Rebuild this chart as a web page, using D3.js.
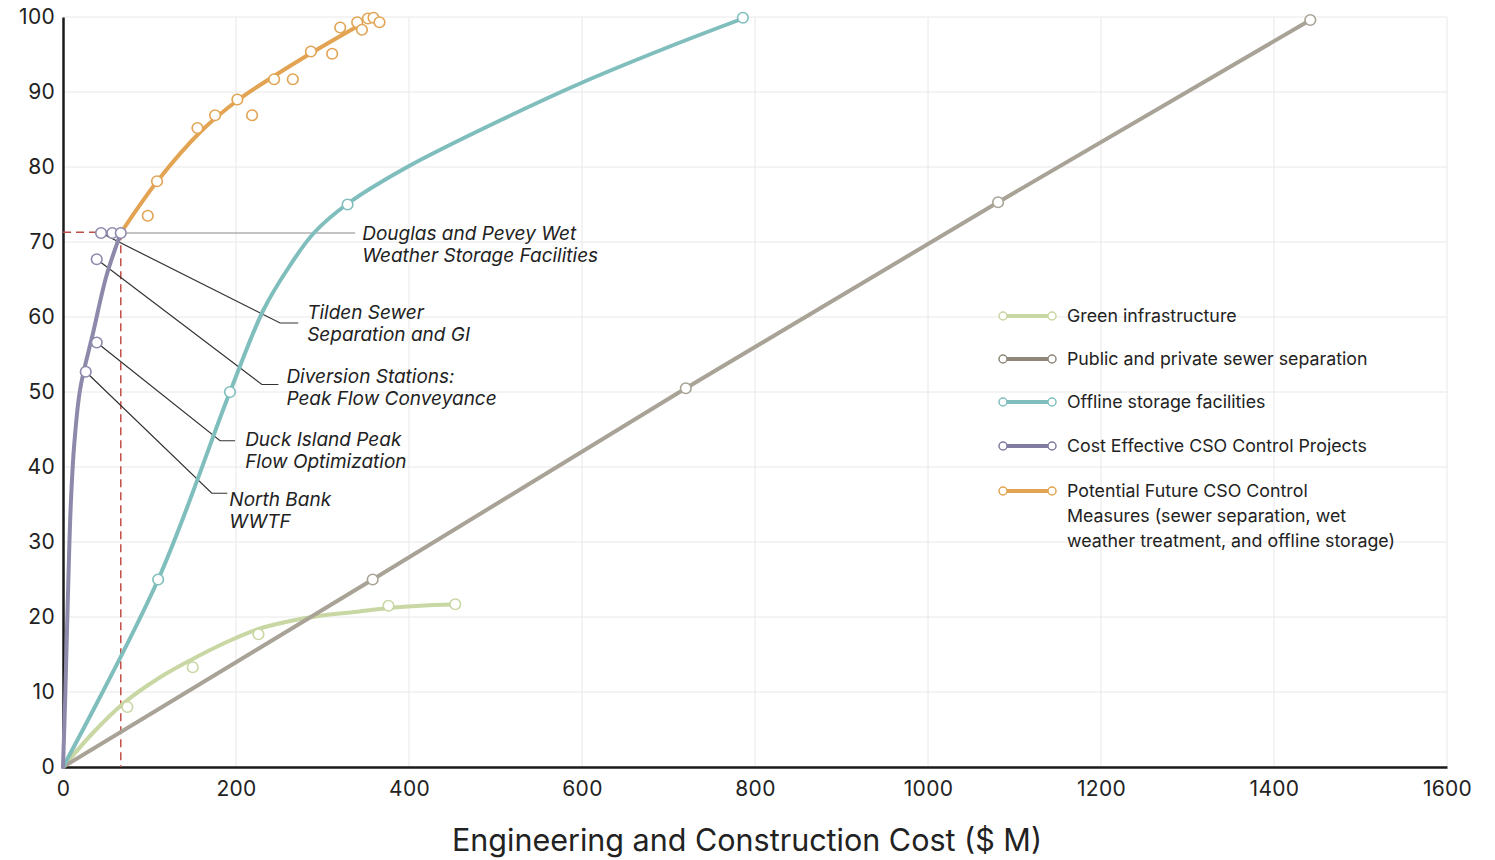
<!DOCTYPE html>
<html><head><meta charset="utf-8">
<script src="https://cdn.jsdelivr.net/npm/d3@7"></script>
<style>
html,body{margin:0;padding:0;background:#fff;}
svg{display:block;}
text{font-family:Inter,"Noto Sans",sans-serif;fill:#222;}
</style></head>
<body>
<svg id="chart" width="1495" height="860"></svg>
<script>
// ---- data ----
const xTicks = [0,200,400,600,800,1000,1200,1400,1600];
const yTicks = [0,10,20,30,40,50,60,70,80,90,100];
const xTitle = "Engineering and Construction Cost ($ M)";

const seriesNames = ["Green infrastructure","Public and private sewer separation","Offline storage facilities","Cost Effective CSO Control Projects","Potential Future CSO Control Measures (sewer separation, wet weather treatment, and offline storage)"];
const legendLines = [["Green infrastructure"],["Public and private sewer separation"],["Offline storage facilities"],["Cost Effective CSO Control Projects"],["Potential Future CSO Control","Measures (sewer separation, wet","weather treatment, and offline storage)"]];
const seriesColors = ["#c8d7a3","#a8a396","#80bebe","#8c89ab","#e2a453"];
const legendColors = ["#c8d7a3","#8f8779","#80bebe","#7f7ca0","#e2a453"];

// curves [cost, % control]
const greenCurve = [[0,0],[35,4.6],[70,8.5],[110,11.8],[150,14.4],[190,16.7],[226,18.4],[260,19.4],[294,20.1],[340,20.7],[376,21.2],[453.5,21.7]];
const greenPoints = [[74.4,8.0],[150,13.3],[226,17.7],[376.3,21.5],[453.5,21.7]];

const sewerCurve = [[0,0],[358,25],[720,50.5],[1081,75.3],[1442,99.6]];
const sewerPoints = [[358,25],[720,50.5],[1081,75.3],[1442,99.6]];

const storageCurve = [[0,0],[110,25],[193,50],[232,61],[262,66.8],[290,71.2],[329,75.1],[398,80],[507,86.3],[599,91.2],[700,96],[786,99.8]];
const storagePoints = [[110,25],[193,50],[329,75],[786,99.9]];

const csoCurve = [[0,0],[2.5,9],[5.5,22],[9,35],[13,43],[20,50.5],[35,58],[50,65.4],[64,70.3],[66.8,71.2]];
const csoPoints = [[26.3,52.7],[39,56.6],[39,67.7],[44,71.2],[57,71.2],[66.8,71.2]];

const futureCurve = [[66.8,71.2],[109,78.1],[159,84.7],[202,88.9],[245,92.2],[290,95.4],[341,98.8]];
const futurePoints = [[98,73.5],[108.7,78.1],[155.4,85.2],[175.8,86.9],[201.6,89.0],[218.6,86.9],[244.1,91.7],[265.7,91.7],[286.6,95.4],[311.2,95.1],[320.5,98.6],[340.1,99.3],[345.6,98.3],[352.5,99.8],[359,99.9],[365.9,99.3]];

// threshold (red dashed guide)
const threshold = [66.8, 71.3];

// annotations: marker point, elbow point, end of horizontal, text lines
const annotations = [
  {name:["North Bank","WWTF"], from:[26.3,52.7], elbow:[172,36.5], end:[190,36.5], dark:true, gap:2, dy:0.69},
  {name:["Duck Island Peak","Flow Optimization"], from:[39,56.6], elbow:[181.6,43.5], end:[199,43.5], dark:true, gap:10, dy:0.3},
  {name:["Diversion Stations:","Peak Flow Conveyance"], from:[39,67.7], elbow:[229.9,51.0], end:[249,51.0], dark:true, gap:8, dy:-0.1},
  {name:["Tilden Sewer","Separation and GI"], from:[44,71.2], elbow:[251,59.2], end:[271.9,59.2], dark:true, gap:9, dy:-0.22},
  {name:["Douglas and Pevey Wet","Weather Storage Facilities"], from:[66.8,71.2], elbow:[66.8,71.2], end:[337.8,71.2], dark:false, gap:7, dy:0.38}
];

// ---- drawing ----
const svg = d3.select("#chart");
const x = d3.scaleLinear().domain([0,1600]).range([63,1447]);
const y = d3.scaleLinear().domain([0,100]).range([767,17]);

// grid
svg.append("g").selectAll("line").data(xTicks.slice(1)).join("line")
  .attr("x1",d=>x(d)).attr("x2",d=>x(d)).attr("y1",y(0)).attr("y2",y(100))
  .attr("stroke","#e8e8e8").attr("stroke-width",1);
svg.append("g").selectAll("line").data(yTicks.slice(1)).join("line")
  .attr("x1",x(0)).attr("x2",x(1600)).attr("y1",d=>y(d)).attr("y2",d=>y(d))
  .attr("stroke","#e8e8e8").attr("stroke-width",1);

// axes
const xAxis = svg.append("g").attr("transform",`translate(0,${y(0)})`)
  .call(d3.axisBottom(x).tickValues(xTicks).tickFormat(d3.format("d")).tickSize(0).tickPadding(14));
xAxis.select(".domain").attr("stroke","#1a1a1a").attr("stroke-width",2.5);
xAxis.selectAll("text").attr("font-size",21).attr("fill","#222").attr("font-family","Inter").attr("letter-spacing","0.3px");

const yAxis = svg.append("g").attr("transform",`translate(${x(0)},0)`)
  .call(d3.axisLeft(y).tickValues(yTicks).tickFormat(d3.format("d")).tickSize(0).tickPadding(8));
yAxis.select(".domain").attr("stroke","#1a1a1a").attr("stroke-width",2.5);
yAxis.selectAll("text").attr("font-size",21).attr("fill","#222").attr("font-family","Inter").attr("letter-spacing","0.3px");

svg.append("text").attr("x",747).attr("y",851).attr("text-anchor","middle")
  .attr("font-size",30.5).attr("font-family","Roboto").attr("fill","#222").text(xTitle);

// red dashed guides
const guides = svg.append("g").attr("stroke","#c24e48").attr("stroke-width",1.5).attr("stroke-dasharray","8,5").attr("fill","none");
guides.append("line").attr("x1",x(0)).attr("x2",x(threshold[0])).attr("y1",y(threshold[1])).attr("y2",y(threshold[1]));
guides.append("line").attr("x1",x(threshold[0])).attr("x2",x(threshold[0])).attr("y1",y(threshold[1])).attr("y2",y(0));

// annotation leaders
const ann = svg.append("g");
annotations.forEach(a=>{
  ann.append("path")
    .attr("d", d3.line()([[x(a.from[0]),y(a.from[1])],[x(a.elbow[0]),y(a.elbow[1])],[x(a.end[0]),y(a.end[1])]]))
    .attr("fill","none").attr("stroke", a.dark ? "#333" : "#8a8a8a").attr("stroke-width",1.2);
  const tx = x(a.end[0]) + a.gap;
  const t = ann.append("text").attr("x", tx).attr("y", y(a.end[1]))
    .attr("font-size",19).attr("font-style","italic").attr("fill","#222");
  a.name.forEach((ln,i)=>{
    t.append("tspan").attr("x", tx).attr("dy", i===0 ? a.dy+"em" : "1.16em").text(ln);
  });
});

// curves
const lineMono = d3.line().x(d=>x(d[0])).y(d=>y(d[1])).curve(d3.curveMonotoneX);
const lineCR = d3.line().x(d=>x(d[0])).y(d=>y(d[1])).curve(d3.curveCatmullRom.alpha(0.5));
const lineLin = d3.line().x(d=>x(d[0])).y(d=>y(d[1]));
const curves = [greenCurve, sewerCurve, storageCurve, csoCurve, futureCurve];
const gens = [lineMono, lineLin, lineCR, lineCR, lineCR];
const points = [greenPoints, sewerPoints, storagePoints, csoPoints, futurePoints];
const curvesG = svg.append("g");
curves.forEach((c,i)=>{
  curvesG.append("path").attr("d", gens[i](c))
    .attr("fill","none").attr("stroke",seriesColors[i]).attr("stroke-width",4).attr("stroke-linecap","round");
});
// markers
points.forEach((p,i)=>{
  svg.append("g").selectAll("circle").data(p).join("circle")
    .attr("cx",d=>x(d[0])).attr("cy",d=>y(d[1])).attr("r",5.3)
    .attr("fill","#fff").attr("stroke",seriesColors[i]).attr("stroke-width",1.6);
});

// legend
const lg = svg.append("g");
const legY = [316,359,402,446,491];
legendLines.forEach((lines,i)=>{
  const g = lg.append("g").attr("transform",`translate(0,${legY[i]})`);
  g.append("line").attr("x1",1003).attr("x2",1052).attr("y1",0).attr("y2",0)
    .attr("stroke",legendColors[i]).attr("stroke-width",4);
  [1003,1052].forEach(cx=>g.append("circle").attr("cx",cx).attr("cy",0).attr("r",4)
    .attr("fill","#fff").attr("stroke",legendColors[i]).attr("stroke-width",1.5));
  const t = g.append("text").attr("x",1067).attr("y",0).attr("font-size",17.8).attr("fill","#2a2a2a");
  lines.forEach((ln,j)=>t.append("tspan").attr("x",1067).attr("dy", j===0 ? "0.35em" : "1.4em").text(ln));
});
</script>
</body></html>
